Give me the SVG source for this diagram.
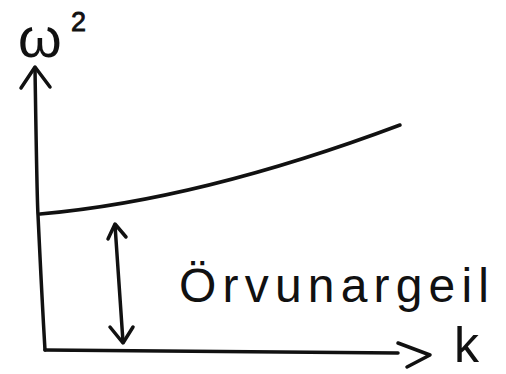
<svg xmlns="http://www.w3.org/2000/svg" width="506" height="374" viewBox="0 0 506 374">
<style>
.ln{fill:none;stroke:#111;stroke-width:3.5;stroke-linecap:round;stroke-linejoin:round}
.t{font-family:"Liberation Sans","DejaVu Sans",sans-serif;fill:#111}
</style>
<rect width="506" height="374" fill="#fff"/>
<g id="axes">
<path class="ln" d="M35 68 Q37 200 38 215 Q42 300 45 350"/>
<path class="ln" d="M21 88 L35 67 L50 87"/>
<path class="ln" d="M45 350 L398 353"/>
<path class="ln" d="M398 343 L430 355 L407 367"/>
</g>
<g id="curve">
<path class="ln" d="M40 214 Q200 200 400 125" stroke-width="4"/>
</g>
<g id="gap-arrow">
<path class="ln" d="M115 225 L123 342"/>
<path class="ln" d="M108 239 L115 224 L126 237"/>
<path class="ln" d="M110 327 L123 343 L133 327"/>
</g>
<g id="labels">
<text class="t" x="18" y="57" font-size="56">ω</text>
<text class="t" x="71" y="31" font-size="27" stroke="#111" stroke-width="0.8">2</text>
<text class="t" x="454" y="362" font-size="50">k</text>
<text class="t" x="179" y="302" font-size="48" textLength="310" lengthAdjust="spacing">Örvunargeil</text>
</g>
</svg>
